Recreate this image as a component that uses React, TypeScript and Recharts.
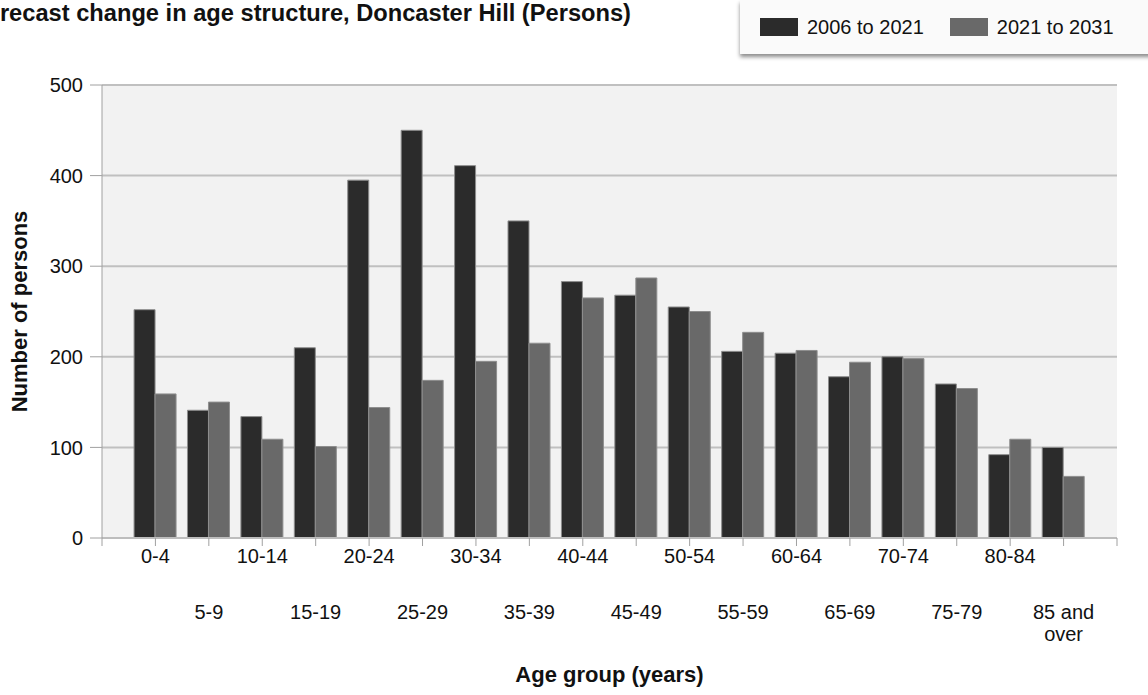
import React from 'react';
import { BarChart, Bar, XAxis, YAxis, CartesianGrid } from 'recharts';

// Net change in persons per five-year age group
const AGE_GROUPS = [
  '0-4', '5-9', '10-14', '15-19', '20-24', '25-29', '30-34', '35-39', '40-44',
  '45-49', '50-54', '55-59', '60-64', '65-69', '70-74', '75-79', '80-84', '85 and over',
];
const CHANGE_2006_2021 = [252, 141, 134, 210, 395, 450, 411, 350, 283, 268, 255, 206, 204, 178, 200, 170, 92, 100];
const CHANGE_2021_2031 = [159, 150, 109, 101, 144, 174, 195, 215, 265, 287, 250, 227, 207, 194, 198, 165, 109, 68];
const Y_TICKS = [0, 100, 200, 300, 400, 500];

const SERIES = [
  { key: 'early', name: '2006 to 2021', color: '#2b2b2b' },
  { key: 'late', name: '2021 to 2031', color: '#696969' },
];

const data = AGE_GROUPS.map((group, i) => ({
  group,
  early: CHANGE_2006_2021[i],
  late: CHANGE_2021_2031[i],
}));

const W = 1148;
const H = 695;
const PLOT_LEFT = 102;
const PLOT_RIGHT = 1117;
const PLOT_TOP = 85;
const PLOT_BOTTOM = 538;
const STEP = (PLOT_RIGHT - PLOT_LEFT) / (AGE_GROUPS.length + 1);
const FONT = '"Liberation Sans", Arial, sans-serif';

// Category labels alternate between two rows; long ones wrap after "and"
function AgeTick(props: any) {
  const { x, payload, index } = props;
  const value: string = payload.value;
  const words = value.split(' ');
  const lines = words.length > 2 ? [words.slice(0, 2).join(' '), words.slice(2).join(' ')] : [value];
  const baseY = index % 2 === 0 ? PLOT_BOTTOM + 25 : PLOT_BOTTOM + 81;
  const last = index === AGE_GROUPS.length - 1;
  return (
    <g>
      {index === 0 && (
        <line x1={x - STEP} x2={x - STEP} y1={PLOT_BOTTOM} y2={PLOT_BOTTOM + 8} stroke="#a0a0a0" />
      )}
      {last && (
        <line x1={x + STEP} x2={x + STEP} y1={PLOT_BOTTOM} y2={PLOT_BOTTOM + 8} stroke="#a0a0a0" />
      )}
      <text x={x} y={baseY} textAnchor="middle" fontSize={20} fill="#111" fontFamily={FONT}>
        {lines.map((line, i) => (
          <tspan key={i} x={x} dy={i === 0 ? 0 : 22}>
            {line}
          </tspan>
        ))}
      </text>
    </g>
  );
}

export default function App() {
  return (
    <div style={{ position: 'absolute', left: 0, top: 0, width: W, height: H, overflow: 'hidden', background: '#fff', fontFamily: FONT }}>
      <BarChart
        width={W}
        height={H}
        data={data}
        margin={{ top: PLOT_TOP, right: W - PLOT_RIGHT, left: 0, bottom: 0 }}
        barGap={0}
        barCategoryGap="10%"
      >
        <CartesianGrid vertical={false} stroke="#c0c0c0" strokeWidth={2} fill="#f2f2f2" />
        <XAxis
          dataKey="group"
          height={H - PLOT_BOTTOM}
          padding={{ left: STEP / 2, right: STEP / 2 }}
          interval={0}
          axisLine={{ stroke: '#bdbdbd', strokeWidth: 2 }}
          tickLine={{ stroke: '#a0a0a0' }}
          tickSize={8}
          tickMargin={0}
          tick={<AgeTick />}
          label={{
            value: 'Age group (years)',
            position: 'insideBottom',
            offset: 13,
            style: { fontSize: 22, fontWeight: 700, fill: '#111', fontFamily: FONT },
          }}
        />
        <YAxis
          width={PLOT_LEFT}
          domain={[0, 500]}
          ticks={Y_TICKS}
          interval={0}
          axisLine={{ stroke: '#a0a0a0' }}
          tickLine={{ stroke: '#a0a0a0' }}
          tickSize={12}
          tickMargin={7}
          tick={{ fontSize: 20, fill: '#111', fontFamily: FONT }}
          label={{
            value: 'Number of persons',
            angle: -90,
            position: 'insideLeft',
            offset: 19,
            style: { textAnchor: 'middle', fontSize: 22, fontWeight: 700, fill: '#111', fontFamily: FONT },
          }}
        />
        {SERIES.map((s) => (
          <Bar
            key={s.key}
            dataKey={s.key}
            name={s.name}
            fill={s.color}
            stroke="#8e8e8e"
            strokeWidth={1}
            isAnimationActive={false}
          />
        ))}
      </BarChart>

      {/* title runs past the left edge of the frame */}
      <svg width={W} height={40} style={{ position: 'absolute', left: 0, top: 0, pointerEvents: 'none' }}>
        <text
          x={-29}
          y={21}
          textLength={660}
          lengthAdjust="spacingAndGlyphs"
          fontSize={23}
          fontWeight={700}
          fill="#111"
          fontFamily={FONT}
        >
          Forecast change in age structure, Doncaster Hill (Persons)
        </text>
      </svg>

      <div
        style={{
          position: 'absolute',
          left: 740,
          top: 0,
          width: 440,
          height: 54,
          background: '#fafafa',
          boxShadow: '0 3px 4px rgba(0,0,0,0.45)',
          display: 'flex',
          alignItems: 'center',
          paddingLeft: 20,
          boxSizing: 'border-box',
        }}
      >
        {SERIES.map((s, i) => (
          <div key={s.key} style={{ display: 'flex', alignItems: 'center', marginRight: i === 0 ? 26 : 0 }}>
            <span style={{ display: 'inline-block', width: 38, height: 18, background: s.color, marginRight: 9 }} />
            <span style={{ fontSize: 20, color: '#111', whiteSpace: 'nowrap' }}>{s.name}</span>
          </div>
        ))}
      </div>
    </div>
  );
}
